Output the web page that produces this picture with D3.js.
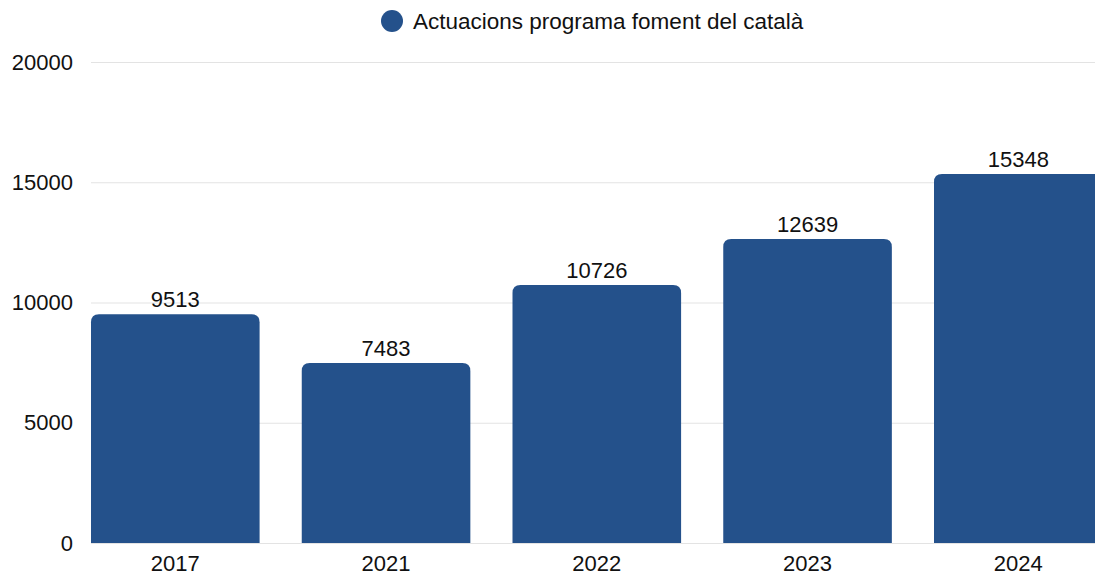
<!DOCTYPE html>
<html><head><meta charset="utf-8">
<script src="https://cdn.jsdelivr.net/npm/d3@7"></script>
<style>body{margin:0;background:#fff;overflow:hidden}svg{display:block;font-family:"Liberation Sans",Arial,sans-serif}</style>
</head><body><svg id="c" width="1095" height="575"></svg>
<script>
const categories = ["2017","2021","2022","2023","2024"];
const values = [9513,7483,10726,12639,15348];
const yTicks = [0,5000,10000,15000,20000];
const seriesName = "Actuacions programa foment del català";
const color = "#24518b";

const svg = d3.select("#c");
const W = 1095, H = 575;
const plotLeft = 91, plotTop = 62, plotBottom = 543;
const step = 210.75;
const x = d3.scaleBand().domain(categories)
  .range([plotLeft, plotLeft + step*(categories.length - 0.2)])
  .paddingInner(0.2).paddingOuter(0);
const y = d3.scaleLinear().domain([0,20000]).range([plotBottom, plotTop]);

// gridlines
svg.append("g").selectAll("line").data(yTicks).join("line")
  .attr("x1", plotLeft).attr("x2", W)
  .attr("y1", d=>y(d)+0.5).attr("y2", d=>y(d)+0.5)
  .attr("stroke", "#e3e3e3").attr("stroke-width",1);

// y labels
svg.append("g").selectAll("text").data(yTicks).join("text")
  .attr("x", 73).attr("y", d=>y(d)).attr("dy","0.35em")
  .attr("text-anchor","end").attr("font-size",22).attr("fill","#111")
  .text(d=>d);

// bars with rounded top corners
const r = 8;
svg.append("g").selectAll("path").data(values).join("path")
  .attr("fill", color)
  .attr("d", (d,i)=>{
    const x0 = x(categories[i]), w = x.bandwidth(), y0 = y(d), yb = y(0);
    return `M${x0},${yb}V${y0+r}Q${x0},${y0} ${x0+r},${y0}H${x0+w-r}Q${x0+w},${y0} ${x0+w},${y0+r}V${yb}Z`;
  });

// value labels
svg.append("g").selectAll("text").data(values).join("text")
  .attr("x",(d,i)=>x(categories[i])+x.bandwidth()/2)
  .attr("y", d=>y(d)-7)
  .attr("text-anchor","middle").attr("font-size",22).attr("fill","#111")
  .text(d=>d);

// x labels
svg.append("g").selectAll("text").data(categories).join("text")
  .attr("x", d=>x(d)+x.bandwidth()/2).attr("y", 571)
  .attr("text-anchor","middle").attr("font-size",22).attr("fill","#111")
  .text(d=>d);

// legend
const lg = svg.append("g");
lg.append("circle").attr("cx",392).attr("cy",21).attr("r",11).attr("fill",color);
lg.append("text").attr("x",413).attr("y",21).attr("dy","0.35em").attr("font-size",22.5).attr("fill","#111").text(seriesName);
</script></body></html>
